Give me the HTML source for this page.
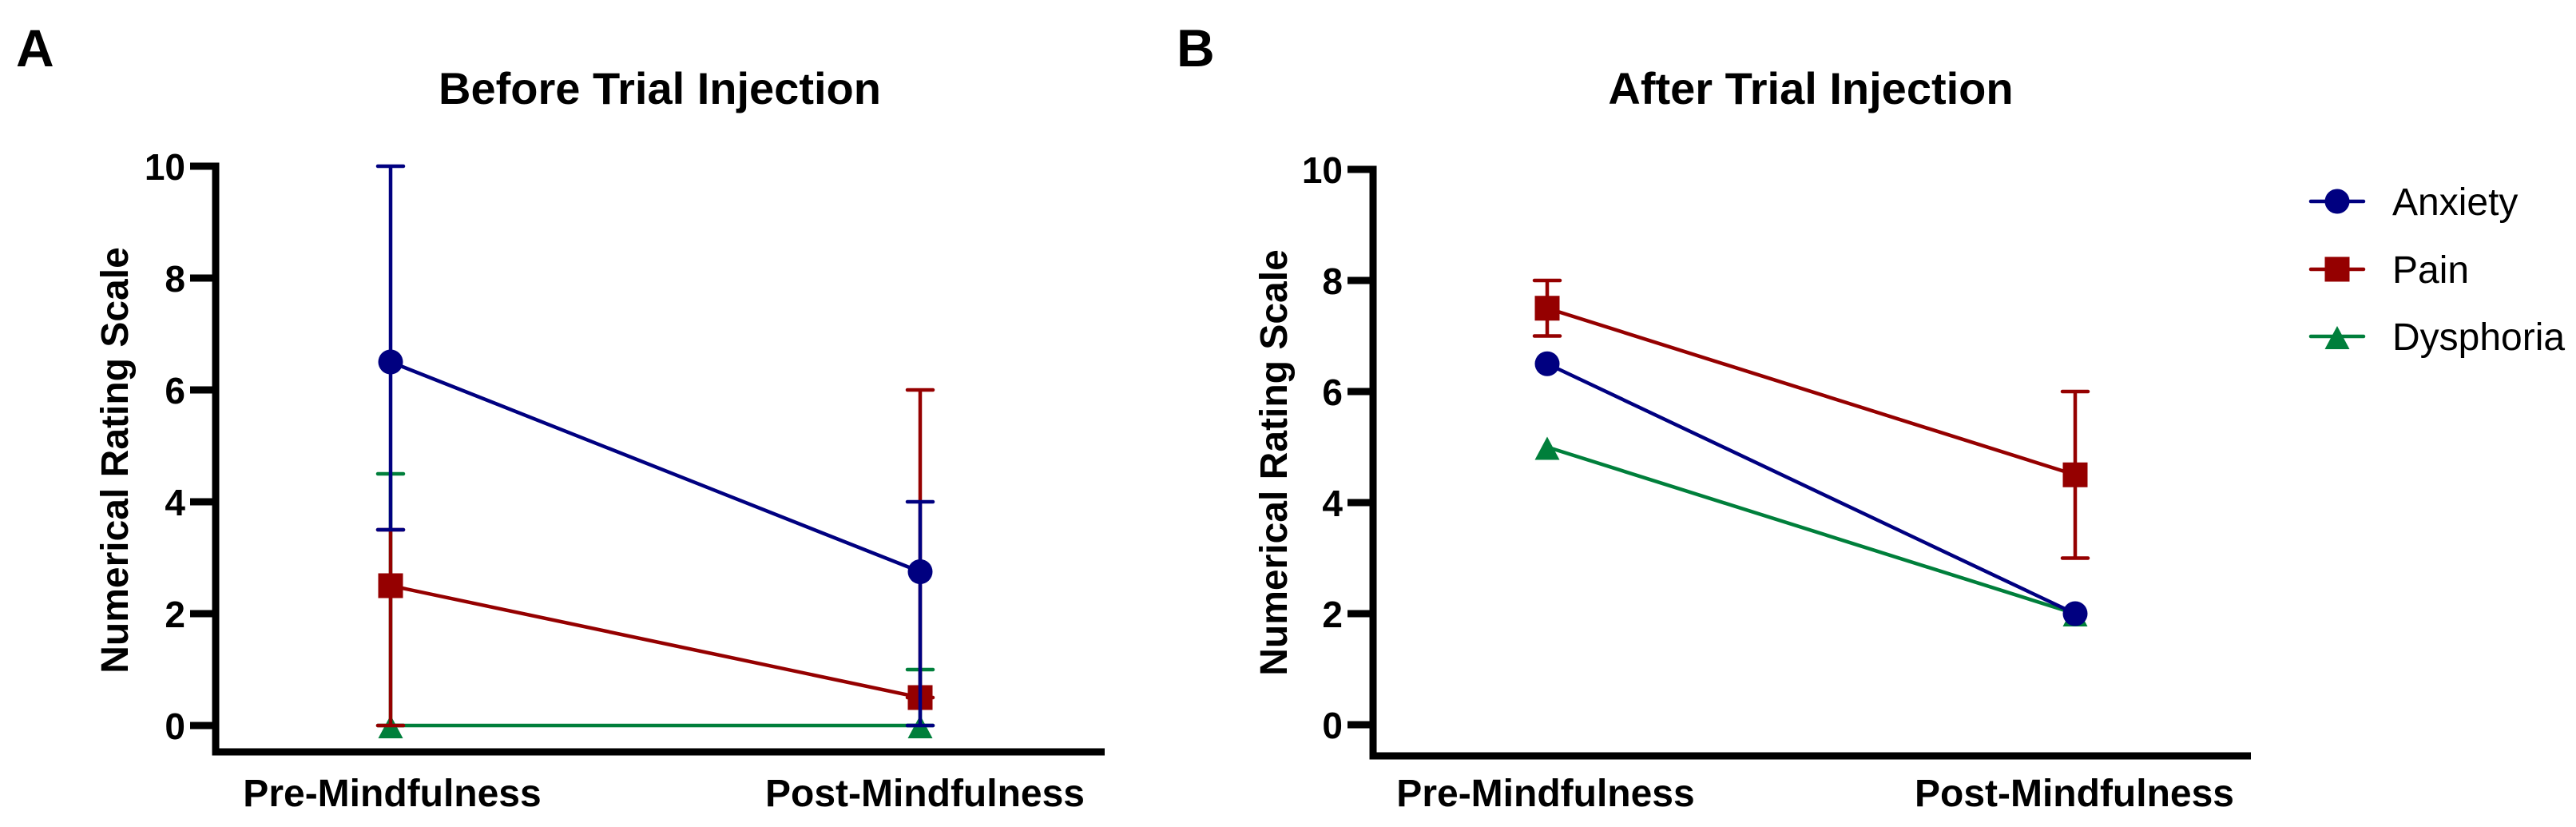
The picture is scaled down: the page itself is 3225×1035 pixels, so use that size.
<!DOCTYPE html>
<html><head><meta charset="utf-8"><style>
html,body{margin:0;padding:0;background:#fff}
svg{display:block}
text{font-family:"Liberation Sans",Arial,sans-serif}
</style></head><body>
<svg id="fig" width="3225" height="1035" viewBox="0 0 3225 1035" xmlns="http://www.w3.org/2000/svg">
<rect width="3225" height="1035" fill="#fff"/>
<text x="20" y="83" font-size="66" font-weight="bold">A</text>
<text x="1473" y="83" font-size="66" font-weight="bold">B</text>
<g id="legend"></g>
</svg>
<script>
const categories = ["Pre-Mindfulness", "Post-Mindfulness"];
const seriesNames = ["Anxiety", "Pain", "Dysphoria"];
const yTicks = [0, 2, 4, 6, 8, 10];
const tickLabels = ["0", "2", "4", "6", "8", "10"];
// Panel A (Before Trial Injection)
const aAnxiety = [6.5, 2.75];
const aAnxietyLow = [3.5, 0];
const aAnxietyHigh = [10, 4];
const aPain = [2.5, 0.5];
const aPainLow = [0, 0.5];
const aPainHigh = [3.5, 6];
const aDysphoria = [0, 0];
const aDysphoriaLow = [0, 0];
const aDysphoriaHigh = [4.5, 1];
// Panel B (After Trial Injection)
const bAnxiety = [6.5, 2];
const bPain = [7.5, 4.5];
const bPainLow = [7, 3];
const bPainHigh = [8, 6];
const bDysphoria = [5, 2];

const NS = "http://www.w3.org/2000/svg";
const svg = document.getElementById("fig");
const colors = {Anxiety:"#000080", Pain:"#950000", Dysphoria:"#007f3b"};
function mk(tag, attrs, parent){const e=document.createElementNS(NS,tag);for(const k in attrs)e.setAttribute(k,attrs[k]);(parent||svg).appendChild(e);return e;}

function marker(g, name, cx, cy){
  let m;
  if(name==="Anxiety") m=mk("circle",{cx:cx,cy:cy,r:15.5,fill:colors[name]},g);
  else if(name==="Pain") m=mk("rect",{x:cx-15.5,y:cy-15.5,width:31,height:31,fill:colors[name]},g);
  else m=mk("polygon",{points:`${cx},${cy-13} ${cx-15.5},${cy+16} ${cx+15.5},${cy+16}`,fill:colors[name]},g);
  return m;
}

function panel(cfg){
  const y = v => cfg.y0 - v*(cfg.y0-cfg.y10)/10;
  const x = i => cfg.xs[i];
  const g = mk("g",{});
  
  
  const t = mk("text",{x:cfg.titleX,y:130,"font-size":56,"font-weight":"bold","text-anchor":"middle"},g);
  t.textContent = cfg.title;
  
  
  const ya = mk("line",{x1:cfg.ax,y1:y(10)-4.5,x2:cfg.ax,y2:cfg.xAxisY+4.5,stroke:"#000","stroke-width":9},g);
  
  
  const xa = mk("line",{x1:cfg.ax-4.5,y1:cfg.xAxisY,x2:cfg.xEnd,y2:cfg.xAxisY,stroke:"#000","stroke-width":9},g);
  
  
  yTicks.forEach((v,i)=>{
    const tk = mk("line",{x1:cfg.ax-32,y1:y(v),x2:cfg.ax,y2:y(v),stroke:"#000","stroke-width":9},g);
    
    
    const tl = mk("text",{x:cfg.ax-38,y:y(v)+17,"font-size":46,"font-weight":"bold","text-anchor":"end"},g);
    tl.textContent = tickLabels[i];
    
    
  });
  categories.forEach((c,i)=>{
    const xl = mk("text",{x:cfg.labelXs[i],y:1009,"font-size":48,"font-weight":"bold","text-anchor":"middle"},g);
    xl.textContent = c;
    
    
  });
  const yt = mk("text",{transform:`translate(${cfg.ytX},${cfg.ytY}) rotate(-90)`,"font-size":48,"font-weight":"bold","text-anchor":"middle"},g);
  yt.textContent = "Numerical Rating Scale";
  
  
  cfg.series.forEach(s=>{
    const col = colors[s.name];
    const sg = mk("g",{},g);
    
    
    if(s.low){
      s.vals.forEach((v,i)=>{
        const e = mk("path",{d:`M${x(i)},${y(s.low[i])}V${y(s.high[i])}M${x(i)-16},${y(s.high[i])}H${x(i)+16}M${x(i)-16},${y(s.low[i])}H${x(i)+16}`,stroke:col,"stroke-width":4.5,fill:"none","stroke-linecap":"round"},sg);
        
        
      });
    }
    const ln = mk("line",{x1:x(0),y1:y(s.vals[0]),x2:x(1),y2:y(s.vals[1]),stroke:col,"stroke-width":4.5},sg);
    
    
    s.vals.forEach((v,i)=>{
      const m = marker(sg, s.name, x(i), y(v));
      
      
    });
  });
}

panel({name:"panel-a-chart", title:"Before Trial Injection", titleX:826, ax:270, y0:908, y10:208, xAxisY:941, xEnd:1383,
  xs:[489,1152], labelXs:[491,1158], ytX:160, ytY:576,
  series:[
    {name:"Dysphoria", vals:aDysphoria, low:aDysphoriaLow, high:aDysphoriaHigh},
    {name:"Pain", vals:aPain, low:aPainLow, high:aPainHigh},
    {name:"Anxiety", vals:aAnxiety, low:aAnxietyLow, high:aAnxietyHigh}
  ]});
panel({name:"panel-b-chart", title:"After Trial Injection", titleX:2267, ax:1719, y0:907, y10:212, xAxisY:946, xEnd:2818,
  xs:[1937,2598], labelXs:[1935,2597], ytX:1611, ytY:579,
  series:[
    {name:"Dysphoria", vals:bDysphoria},
    {name:"Pain", vals:bPain, low:bPainLow, high:bPainHigh},
    {name:"Anxiety", vals:bAnxiety}
  ]});

const lg = document.getElementById("legend");
const legendY = [252, 337, 421];
seriesNames.forEach((n,i)=>{
  const eg = mk("g",{},lg);
  
  
  mk("line",{x1:2893,y1:legendY[i],x2:2959,y2:legendY[i],stroke:colors[n],"stroke-width":4.5,"stroke-linecap":"round"},eg);
  marker(eg, n, 2926, legendY[i]);
  const t = mk("text",{x:2995,y:legendY[i]+17,"font-size":48},eg);
  t.textContent = n;
});
</script>
</body></html>
